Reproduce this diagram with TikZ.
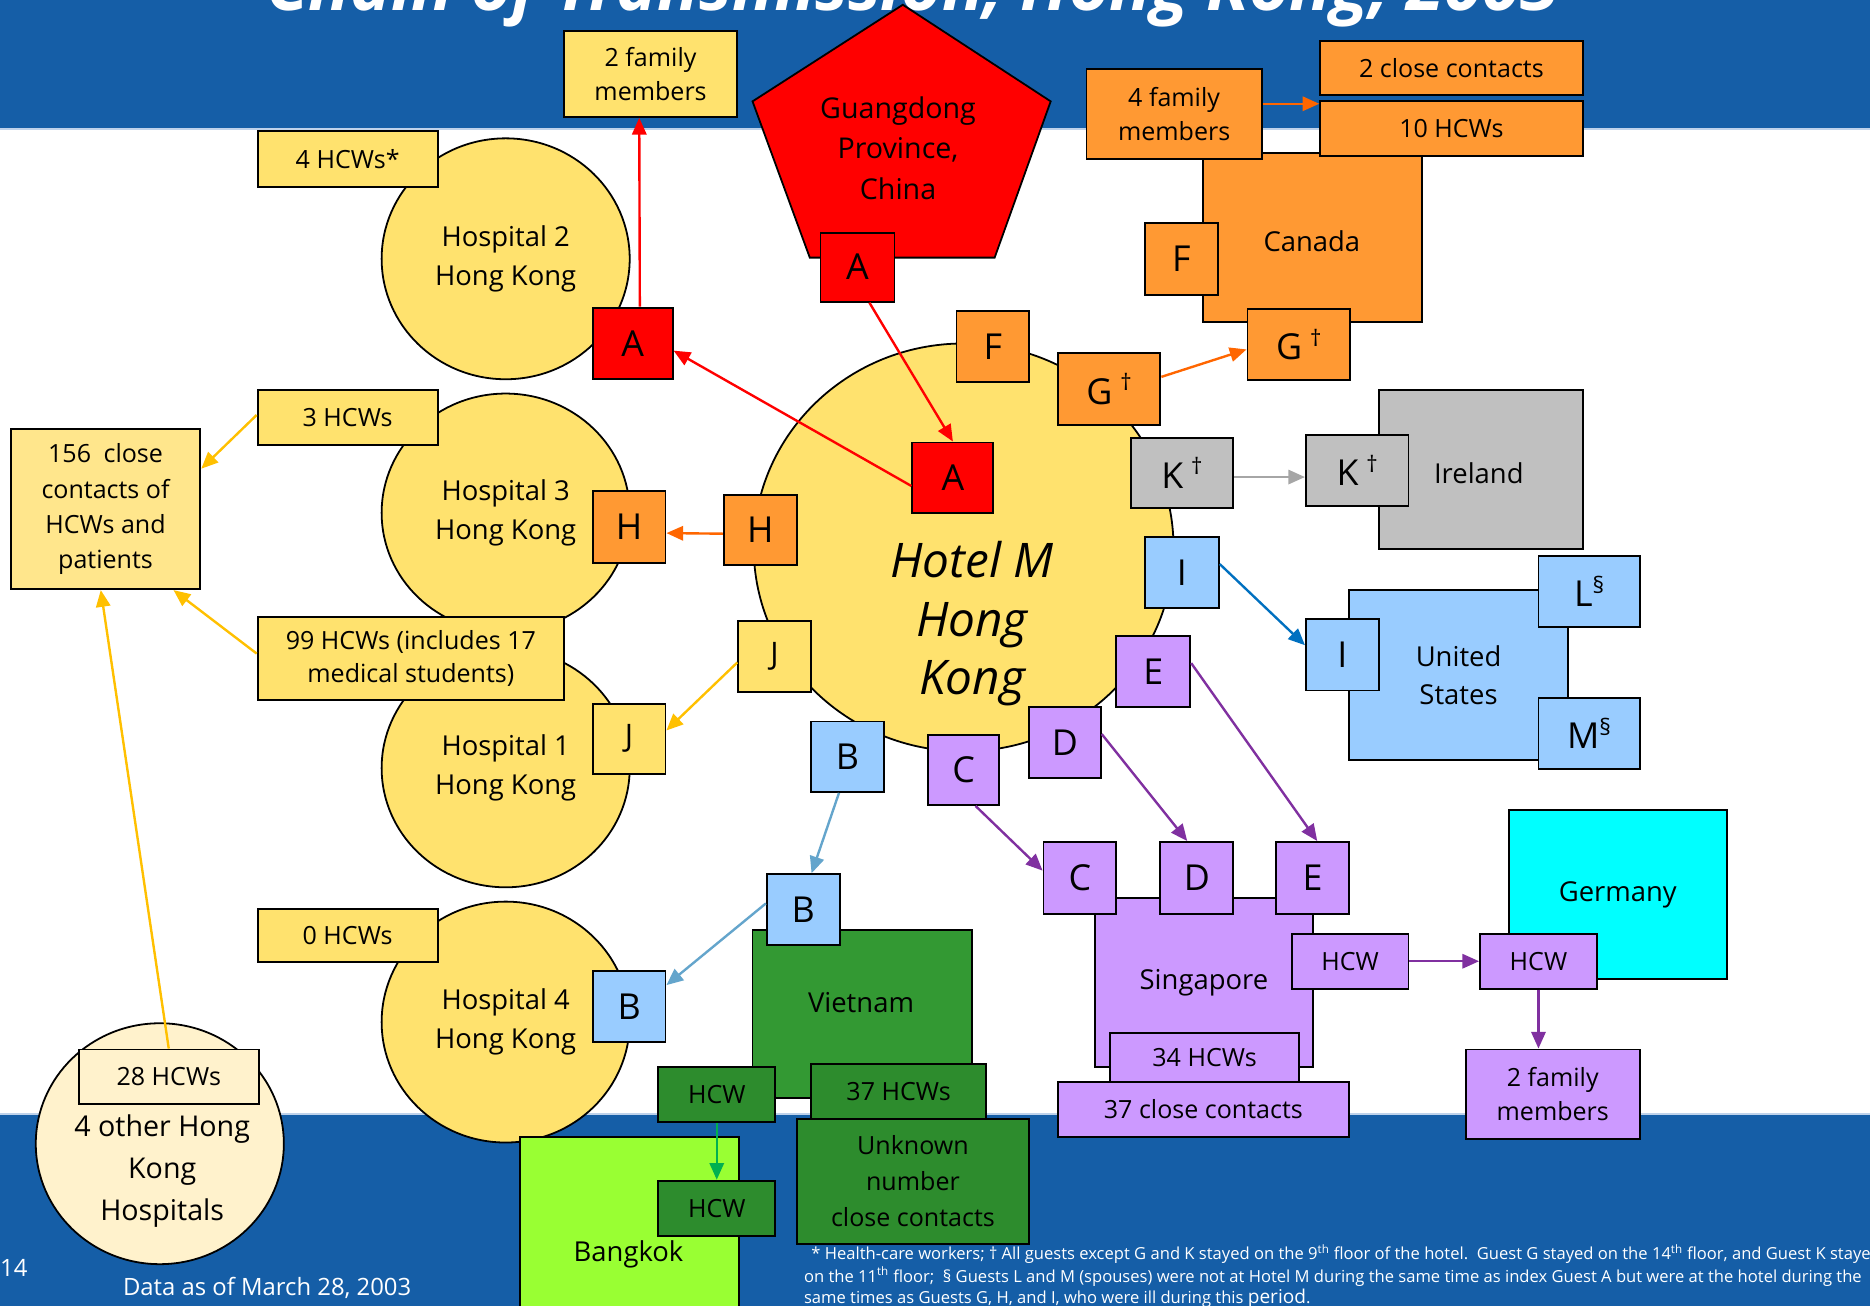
\documentclass[tikz,border=0pt]{standalone}
\usepackage{fontspec}
\setmainfont{Open Sans}
\usetikzlibrary{arrows.meta,shapes.geometric}
\definecolor{bandblue}{RGB}{21,94,167}
\definecolor{bandline}{RGB}{190,210,235}
\definecolor{yel}{RGB}{255,226,110}
\definecolor{yelB}{RGB}{255,230,140}
\definecolor{cream}{RGB}{255,242,204}
\definecolor{org}{RGB}{255,153,51}
\definecolor{gry}{RGB}{192,192,192}
\definecolor{lblue}{RGB}{153,204,255}
\definecolor{purp}{RGB}{204,153,255}
\definecolor{germcyan}{RGB}{0,255,255}
\definecolor{vgreen}{RGB}{51,153,51}
\definecolor{dgreen}{RGB}{45,140,45}
\definecolor{lime}{RGB}{153,255,51}
\definecolor{aRed}{RGB}{255,0,0}
\definecolor{aOrg}{RGB}{255,102,0}
\definecolor{aYel}{RGB}{255,192,0}
\definecolor{aGry}{RGB}{166,166,166}
\definecolor{aBlu}{RGB}{0,112,192}
\definecolor{aSteel}{RGB}{100,165,204}
\definecolor{aPur}{RGB}{128,48,160}
\definecolor{aGrn}{RGB}{0,176,80}
\newcommand{\fsz}[2]{\fontsize{#1}{#2}\selectfont}
\newcommand{\bx}[7]{\node[#6, minimum width={#4-#2}, minimum height={#5-#3}] (#1) at ({(#2+#4)/2},{(#3+#5)/2}) {#7};}
\newcommand{\dg}{\hspace{0.22em}\raisebox{0.38em}{\fsz{19}{19}†}}
\newcommand{\sect}{\raisebox{0.38em}{\fsz{19}{19}§}}
\tikzset{
  box/.style={draw=black, line width=1.6pt, inner sep=0pt, align=center, font=\fsz{21}{29}},
  lbox/.style={box, font=\fsz{30}{36}},
  circ/.style={ellipse, draw=black, line width=1.5pt, inner sep=0pt, align=center, font=\fsz{23}{33}},
  arr/.style={line width=2pt, -{Triangle[length=14pt,width=12pt]}},
  plain/.style={inner sep=0pt, align=center},
  foot/.style={anchor=base west, inner sep=0pt, text=white, font=\fsz{13.9}{19}}
}
\begin{document}
\begin{tikzpicture}[x=1pt,y=-1pt]
\useasboundingbox (0,0) rectangle (1568,1095);
\clip (0,0) rectangle (1568,1095);
\fill[white] (0,0) rectangle (1568,1095);
% bands
\fill[bandblue] (0,0) rectangle (1568,108);
\fill[bandblue] (0,934) rectangle (1568,1095);
\draw[bandline, line width=1.5pt] (0,108) -- (1568,108);
\draw[bandline, line width=1.5pt] (0,934) -- (1568,934);
% title (cut off at top, as in the reference)
\node[anchor=base, inner sep=0pt, text=white, font=\fsz{58}{64}\bfseries\itshape] (title) at (765,9) {Chain of Transmission, Hong Kong, 2003};

% Guangdong pentagon
\filldraw[fill=aRed, draw=black, line width=1.5pt] (757,4) -- (881,85) -- (834,216) -- (679,216) -- (631,85) -- cycle;
\node[plain, font=\fsz{24}{34}] (gdtxt) at (753,124) {Guangdong\\Province,\\China};

% circles
\node[circ, fill=yel, minimum width=208, minimum height=202] (h2) at (424,217) {Hospital 2\\Hong Kong};
\node[circ, fill=yel, minimum width=208, minimum height=200] (h3) at (424,430) {Hospital 3\\Hong Kong};
\node[circ, fill=yel, minimum width=208, minimum height=200] (h1) at (424,644) {Hospital 1\\Hong Kong};
\node[circ, fill=yel, minimum width=208, minimum height=202] (h4) at (424,857) {Hospital 4\\Hong Kong};
\node[circ, fill=yel, minimum width=352, minimum height=342] (hotel) at (808,459) {};
\node[plain, font=\fsz{40}{49}\itshape] (hoteltxt) at (815,523) {Hotel M\\Hong\\Kong};
\node[circ, fill=cream, minimum width=208, minimum height=202] (other4) at (134,959) {};
\node[plain, font=\fsz{24}{35}] (other4txt) at (136,982) {4 other Hong\\Kong\\Hospitals};

% left side boxes
\bx{fam2y}{473}{26}{618}{98}{box, fill=yel}{2 family\\members}
\bx{hcw4}{216}{110}{367}{157}{box, fill=yel}{4 HCWs*}
\bx{A2}{497}{258}{564}{318}{lbox, fill=aRed}{A}
\bx{hcw3}{216}{327}{367}{373}{box, fill=yel}{3 HCWs}
\bx{H3}{497}{412}{558}{472}{lbox, fill=org}{H}
\bx{c156}{9}{360}{168}{494}{box, fill=yelB, font=\fsz{21}{29.5}}{156\enspace close\\contacts of\\HCWs and\\patients}
\bx{hcw99}{216}{517}{473}{587}{box, fill=yel, font=\fsz{21}{28}}{99 HCWs (includes 17\\medical students)}
\bx{J1}{497}{590}{558}{649}{box, fill=yel, font=\fsz{26}{30}}{J}
\bx{hcw0}{216}{762}{367}{807}{box, fill=yel}{0 HCWs}
\bx{B4}{497}{814}{558}{874}{lbox, fill=lblue}{B}
\bx{hcw28}{66}{880}{217}{926}{box, fill=cream}{28 HCWs}

% boxes around Hotel M
\bx{Ap}{688}{195}{750}{253}{lbox, fill=aRed}{A}
\bx{Ahk}{765}{371}{833}{430}{lbox, fill=aRed}{A}
\bx{Fh}{802}{261}{863}{320}{lbox, fill=org}{F}
\bx{Gh}{887}{296}{973}{356}{lbox, fill=org}{G\dg}
\bx{Hh}{607}{415}{668}{474}{lbox, fill=org}{H}
\bx{Kh}{948}{367}{1034}{426}{lbox, fill=gry}{K\dg}
\bx{Ih}{960}{450}{1022}{510}{lbox, fill=lblue}{I}
\bx{Eh}{936}{533}{998}{593}{lbox, fill=purp}{E}
\bx{Jh}{619}{521}{680}{580}{box, fill=yel, font=\fsz{26}{30}}{J}
\bx{Bh}{680}{605}{741}{664}{lbox, fill=lblue}{B}
\bx{Ch}{778}{616}{838}{675}{lbox, fill=purp}{C}
\bx{Dh}{863}{593}{923}{652}{lbox, fill=purp}{D}

% Canada
\bx{canada}{1009}{128}{1192}{270}{box, fill=org}{}
\node[plain, font=\fsz{23}{30}] (canadatxt) at (1100,202) {Canada};
\bx{close2}{1107}{34}{1327}{80}{box, fill=org}{2 close contacts}
\bx{hcw10}{1107}{85}{1327}{131}{box, fill=org}{10 HCWs}
\bx{fam4}{911}{58}{1058}{133}{box, fill=org}{4 family\\members}
\bx{Fc}{960}{187}{1021}{247}{lbox, fill=org}{F}
\bx{Gc}{1046}{259}{1132}{319}{lbox, fill=org}{G\dg}

% Ireland
\bx{ireland}{1156}{327}{1327}{460}{box, fill=gry}{}
\node[plain, font=\fsz{23}{30}] (irelandtxt) at (1240,397) {Ireland};
\bx{Ki}{1095}{365}{1181}{424}{lbox, fill=gry}{K\dg}

% United States
\bx{us}{1131}{495}{1315}{637}{box, fill=lblue, font=\fsz{23}{32}}{United\\States}
\bx{Iu}{1095}{519}{1156}{579}{lbox, fill=lblue}{I}
\bx{Lu}{1290}{466}{1375}{526}{lbox, fill=lblue}{L\sect}
\bx{Mu}{1290}{585}{1375}{645}{lbox, fill=lblue}{M\sect}

% Singapore
\bx{sing}{918}{753}{1101}{895}{box, fill=purp, font=\fsz{23}{30}}{Singapore}
\bx{Cs}{875}{706}{936}{766}{lbox, fill=purp}{C}
\bx{Ds}{973}{706}{1034}{766}{lbox, fill=purp}{D}
\bx{Es}{1070}{706}{1131}{766}{lbox, fill=purp}{E}
\bx{hcwS}{1083}{783}{1181}{829}{box, fill=purp}{HCW}
\bx{hcw34}{931}{866}{1089}{907}{box, fill=purp}{34 HCWs}
\bx{close37}{887}{907}{1131}{953}{box, fill=purp}{37 close contacts}

% Germany
\bx{germany}{1265}{679}{1448}{821}{box, fill=germcyan, font=\fsz{23}{30}}{Germany}
\bx{hcwG}{1241}{783}{1339}{829}{box, fill=purp}{HCW}
\bx{fam2p}{1229}{880}{1375}{955}{box, fill=purp}{2 family\\members}

% Vietnam
\bx{vietnam}{631}{780}{815}{921}{box, fill=vgreen}{}
\node[plain, font=\fsz{23}{30}] (vietnamtxt) at (722,841) {Vietnam};
\bx{Bv}{643}{733}{704}{792}{lbox, fill=lblue}{B}
\bx{hcwV}{552}{895}{650}{941}{box, fill=dgreen}{HCW}
\bx{hcw37}{680}{892}{827}{938}{box, fill=dgreen}{37 HCWs}
\bx{unknown}{668}{938}{863}{1043}{box, fill=dgreen, font=\fsz{21}{30}}{Unknown\\number\\close contacts}

% Bangkok
\bx{bangkok}{436}{953}{620}{1130}{box, fill=lime}{}
\node[plain, font=\fsz{23}{30}] (bangkoktxt) at (527,1052) {Bangkok};
\bx{hcwB}{552}{990}{650}{1036}{box, fill=dgreen}{HCW}

% connectors
\draw[arr, aRed] ([xshift=10pt]Ap.south) -- (Ahk.north);
\draw[arr, aRed] ([yshift=-7pt]Ahk.west) -- ([yshift=-6pt]A2.east);
\draw[arr, aRed] ([xshift=6pt]A2.north) -- ([xshift=-9.5pt]fam2y.south);
\draw[arr, aOrg] ([yshift=-3pt]Hh.west) -- ([yshift=-5pt]H3.east);
\draw[arr, aYel] ([yshift=-5pt]Jh.west) -- ([yshift=7pt]J1.east);
\draw[arr, aSteel] ([xshift=-7pt]Bh.south) -- ([xshift=7pt]Bv.north);
\draw[arr, aSteel] ([yshift=5pt]Bv.west) -- ([yshift=18pt]B4.east);
\draw[arr, aGrn] (hcwV.south) -- (hcwB.north);
\draw[arr, aPur] ([xshift=10pt]Ch.south) -- ([yshift=6pt]Cs.west);
\draw[arr, aPur] ([yshift=7pt]Dh.east) -- ([xshift=-8pt]Ds.north);
\draw[arr, aPur] ([yshift=7pt]Eh.east) -- ([xshift=4pt]Es.north);
\draw[arr, aBlu] ([yshift=7pt]Ih.east) -- ([yshift=8pt]Iu.west);
\draw[arr, aGry] ([yshift=-3.5pt]Kh.east) -- ([yshift=-5.5pt]Ki.west);
\draw[arr, aOrg] ([yshift=10pt]Gh.east) -- ([yshift=-4pt]Gc.west);
\draw[arr, aOrg] ([yshift=8.5pt]fam4.east) -- ([yshift=21pt]hcw10.west);
\draw[arr, aPur] (hcwS.east) -- (hcwG.west);
\draw[arr, aPur] (hcwG.south) -- (hcwG.south |- fam2p.north);
\draw[arr, aYel] ([yshift=2pt]hcw3.west) -- ([yshift=34pt]c156.east);
\draw[arr, aYel] ([yshift=4pt]hcw99.west) -- ([xshift=57pt]c156.south);
\draw[arr, aYel] (hcw28.north) -- ([xshift=-4pt]c156.south);

% footer texts
\node[anchor=base west, inner sep=0pt, text=white, font=\fsz{20}{24}] (pagenum) at (0,1070) {14};
\node[anchor=base west, inner sep=0pt, text=white, font=\fsz{20}{24}] (datenote) at (103,1086) {Data as of March 28, 2003};
\node[foot] (fn1) at (676,1056) {\hspace{0.3em}* Health-care workers; † All guests except G and K stayed on the 9\textsuperscript{th} floor of the hotel.\ \ Guest G stayed on the 14\textsuperscript{th} floor, and Guest K stayed};
\node[foot] (fn2) at (674,1075) {on the 11\textsuperscript{th} floor;\ \ § Guests L and M (spouses) were not at Hotel M during the same time as index Guest A but were at the hotel during the};
\node[foot] (fn3) at (674,1093) {same times as Guests G, H, and I, who were ill during this {\fsz{16}{19}period}.};
\end{tikzpicture}
\end{document}
